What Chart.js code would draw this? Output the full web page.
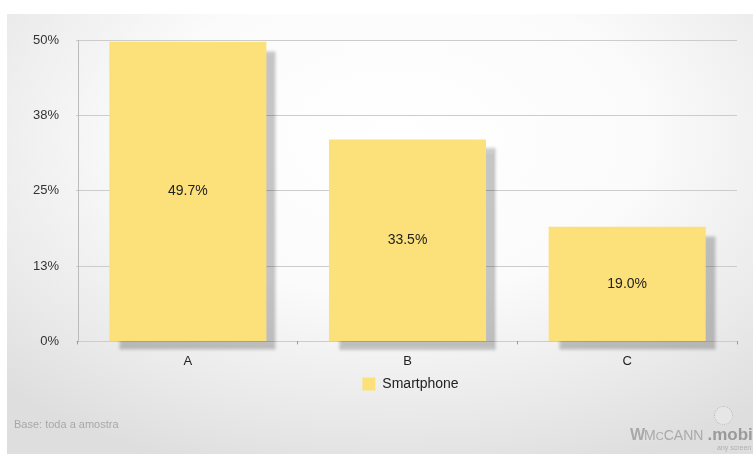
<!DOCTYPE html>
<html>
<head>
<meta charset="utf-8">
<script src="https://cdn.jsdelivr.net/npm/chart.js@4"></script>
<style>
  html, body { margin: 0; padding: 0; background: #ffffff; }
  body { width: 753px; height: 454px; position: relative; overflow: hidden; font-family: "Liberation Sans", Arial, sans-serif; }
  #slide { position: absolute; left: 7px; top: 14px; width: 746px; height: 440px;
    background: radial-gradient(ellipse 75% 80% at 52% 28%, #ffffff 0%, #fbfbfb 45%, #e9e9e9 80%, #dedede 100%); }
  #wrap { position: absolute; left: 0; top: 0; width: 753px; height: 454px; }
  #base { position: absolute; left: 14px; top: 418px; font-size: 11px; color: #a8a8a8; }
  #logo { position: absolute; left: 630px; top: 425px; color: #a9a9a9; white-space: nowrap; }
  #logo .w { font-weight: bold; font-size: 16px; letter-spacing: -1px; }
  #logo .mc { font-size: 14px; }
  #logo .mobi { font-weight: bold; font-size: 17px; color: #9a9a9a; margin-left: 4px; }
  #logo .sub { position: absolute; left: 87px; top: 19px; font-size: 7px; color: #b0b0b0; }
  #globe { position: absolute; left: 714px; top: 406px; width: 17px; height: 17px; border-radius: 50%; border: 1px dotted #b8b8b8; background: #e6e6e6; }
</style>
</head>
<body>
<div id="slide"></div>
<div id="wrap"><canvas id="c" width="753" height="454"></canvas></div>
<div id="base">Base: toda a amostra</div>
<div id="globe"></div>
<div id="logo"><span class="w">W</span><span class="mc">M<span style="font-size:11px">C</span>CANN</span><span class="mobi">.mobi</span><span class="sub">any screen</span></div>
<script>
const categories = ['A', 'B', 'C'];
const seriesName = 'Smartphone';
const smartphone = [49.7, 33.5, 19.0];
const yTickValues = [0, 12.5, 25, 37.5, 50];
const yTickLabels = ['0%', '13%', '25%', '38%', '50%'];

const FONT = '"Liberation Sans", Arial, sans-serif';

const shadowPlugin = {
  id: 'barShadow',
  beforeDatasetsDraw(chart) {
    const ctx = chart.ctx;
    ctx.save();
    ctx.shadowColor = 'rgba(0,0,0,0.22)';
    ctx.shadowOffsetX = 10;
    ctx.shadowOffsetY = 9;
    ctx.shadowBlur = 3;
  },
  afterDatasetsDraw(chart) {
    chart.ctx.restore();
  }
};

const valueLabels = {
  id: 'valueLabels',
  afterDatasetsDraw(chart) {
    const ctx = chart.ctx;
    const meta = chart.getDatasetMeta(0);
    ctx.save();
    ctx.shadowColor = 'transparent';
    ctx.font = '14px ' + FONT;
    ctx.fillStyle = '#222222';
    ctx.textAlign = 'center';
    ctx.textBaseline = 'middle';
    meta.data.forEach((bar, i) => {
      const v = chart.data.datasets[0].data[i];
      ctx.fillText(v.toFixed(1) + '%', bar.x, (bar.y + bar.base) / 2);
    });
    ctx.restore();
  }
};

const legendShift = {
  id: 'legendShift',
  afterLayout(chart) {
    if (chart.legend) { chart.legend.left += 42; chart.legend.right += 42; }
  }
};

new Chart(document.getElementById('c'), {
  type: 'bar',
  data: {
    labels: categories,
    datasets: [{
      label: seriesName,
      data: smartphone,
      backgroundColor: '#FCE07A',
      borderWidth: 0,
      categoryPercentage: 1,
      barPercentage: 0.715,
      clip: false
    }]
  },
  options: {
    responsive: false,
    animation: false,
    devicePixelRatio: 1,
    layout: { padding: { left: 0, right: 16, top: 40, bottom: 53 } },
    plugins: {
      tooltip: { enabled: false },
      legend: {
        position: 'bottom',
        labels: {
          boxWidth: 13, boxHeight: 13, padding: 4,
          color: '#222222',
          font: { family: FONT, size: 14 }
        }
      }
    },
    scales: {
      y: {
        min: 0, max: 50,
        afterBuildTicks(scale) { scale.ticks = yTickValues.map(v => ({ value: v })); },
        afterFit(scale) { scale.width = 78; },
        ticks: {
          color: '#333333',
          font: { family: FONT, size: 13 },
          padding: 17,
          callback: (v, i) => yTickLabels[i]
        },
        grid: { color: '#cccccc', lineWidth: 1, tickLength: 2 },
        border: { color: '#bbbbbb' }
      },
      x: {
        afterFit(scale) { scale.height -= 5; },
        grid: { display: true, drawOnChartArea: false, tickLength: 3, color: '#999999' },
        border: { display: false },
        ticks: { color: '#222222', font: { family: FONT, size: 13 }, padding: 9 }
      }
    }
  },
  plugins: [shadowPlugin, valueLabels, legendShift]
});
</script>
</body>
</html>
